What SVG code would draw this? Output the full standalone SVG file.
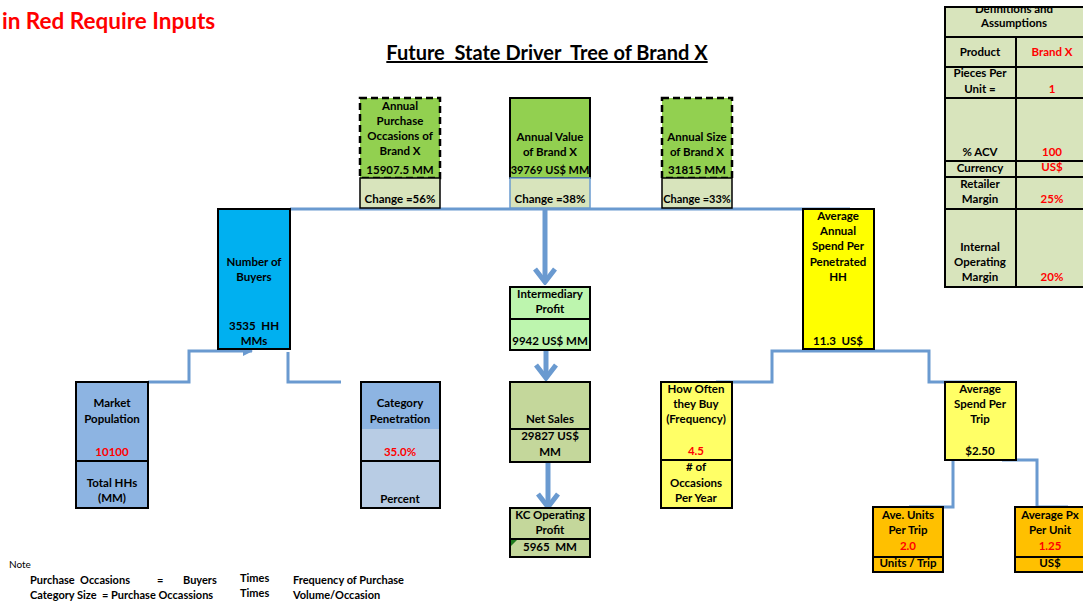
<svg xmlns="http://www.w3.org/2000/svg" width="1083" height="604" viewBox="0 0 1083 604">
<defs>
<style>
text{font-family:Lato,"Liberation Sans",sans-serif;font-weight:bold;font-size:11.5px;fill:#000;text-anchor:middle;white-space:pre}
.red{fill:#FF0000}
.box{stroke:#000;stroke-width:2}
.cell{stroke:#000;stroke-width:1.5}
.dash{stroke:#000;stroke-width:2.5;stroke-dasharray:7 4}
.conn{fill:none;stroke:#6A9AD0;stroke-width:3}
.thick{fill:none;stroke:#6A9AD0;stroke-width:5}
.note{text-anchor:start;font-size:11px}
</style>
<marker id="chev" viewBox="0 0 18 24" refX="15" refY="12" markerWidth="18" markerHeight="24" markerUnits="userSpaceOnUse" orient="auto">
<path d="M2,2 L15,12 L2,22" fill="none" stroke="#6A9AD0" stroke-width="5"/>
</marker>
<marker id="tri" viewBox="0 0 10 10" refX="9" refY="5" markerWidth="10" markerHeight="10" markerUnits="userSpaceOnUse" orient="auto">
<path d="M0,0 L10,5 L0,10 Z" fill="#6A9AD0"/>
</marker>
<clipPath id="tblclip"><rect x="940" y="8" width="150" height="30"/></clipPath>
</defs>
<rect width="1083" height="604" fill="#fff"/>

<text x="2" y="29" class="red" style="text-anchor:start;font-size:22.5px">in Red Require Inputs</text>
<text x="547" y="60" style="font-size:20px;text-decoration:underline">Future  State Driver  Tree of Brand X</text>

<g id="connectors">
<polyline class="conn" points="290,209 805,209 850,209"/>
<line class="thick" x1="545" y1="210" x2="545" y2="282" marker-end="url(#chev)"/>
<line class="thick" x1="546" y1="351" x2="546" y2="378" marker-end="url(#chev)"/>
<line class="thick" x1="548" y1="463" x2="548" y2="507" marker-end="url(#chev)"/>
<polyline class="conn" points="148,382 189,382 189,351 252,351" marker-end="url(#tri)"/>
<polyline class="conn" points="288,352 288,382 341,382"/>
<polyline class="conn" points="716,382 772,382 772,351 929,351 929,382 990,382"/>
<polyline class="conn" points="998,444 953,444 953,507 909,507"/>
<polyline class="conn" points="1002,460 1037,460 1037,507 1068,507"/>
</g>

<g id="annual-purchase-occasions">
<rect x="360" y="98" width="80" height="80" fill="#92D050"/>
<rect x="360" y="98" width="80" height="80" fill="none" class="dash"/>
<rect x="360" y="178" width="80" height="30" fill="#D8E4BC" class="cell"/>
<text x="400" y="110">Annual</text>
<text x="400" y="125">Purchase</text>
<text x="400" y="140">Occasions of</text>
<text x="400" y="155">Brand X</text>
<text x="400" y="174">15907.5 MM</text>
<text x="400" y="203">Change =56%</text>
</g>

<g id="annual-value">
<rect x="510" y="98" width="80" height="80" fill="#92D050" class="box"/>
<rect x="510" y="178" width="80" height="30" fill="#D8E4BC" stroke="#6A9AD0" stroke-width="1.5"/>
<text x="550" y="141">Annual Value</text>
<text x="550" y="156">of Brand X</text>
<text x="550" y="174" style="font-size:11px">39769 US$ MM</text>
<text x="550" y="203">Change =38%</text>
</g>

<g id="annual-size">
<rect x="662" y="98" width="70" height="80" fill="#92D050"/>
<rect x="662" y="98" width="70" height="80" fill="none" class="dash"/>
<rect x="662" y="178" width="70" height="30" fill="#D8E4BC" class="cell"/>
<text x="697" y="141">Annual Size</text>
<text x="697" y="156">of Brand X</text>
<text x="697" y="174">31815 MM</text>
<text x="697" y="203" style="font-size:11px">Change =33%</text>
</g>

<g id="number-of-buyers">
<rect x="218" y="209" width="72" height="140" fill="#00B0F0" class="box"/>
<text x="254" y="266">Number of</text>
<text x="254" y="281">Buyers</text>
<text x="254" y="330">3535  HH</text>
<text x="254" y="345">MMs</text>
</g>

<g id="avg-annual-spend">
<rect x="803" y="209" width="71" height="140" fill="#FFFF00" class="box"/>
<text x="838" y="220">Average</text>
<text x="838" y="235">Annual</text>
<text x="838" y="250">Spend Per</text>
<text x="838" y="266">Penetrated</text>
<text x="838" y="281">HH</text>
<text x="838" y="345">11.3  US$</text>
</g>

<g id="intermediary-profit">
<rect x="510" y="287" width="80" height="63" fill="#BDF5AE" class="box"/>
<line x1="510" y1="319" x2="590" y2="319" class="box"/>
<text x="550" y="298">Intermediary</text>
<text x="550" y="313">Profit</text>
<text x="550" y="345">9942 US$ MM</text>
</g>

<g id="net-sales">
<rect x="510" y="382" width="80" height="80" fill="#C4D79B" class="box"/>
<line x1="510" y1="429" x2="590" y2="429" class="box"/>
<text x="550" y="423">Net Sales</text>
<text x="550" y="440">29827 US$</text>
<text x="550" y="456">MM</text>
</g>

<g id="kc-operating-profit">
<rect x="510" y="508" width="80" height="49" fill="#C4D79B" class="box"/>
<line x1="510" y1="539" x2="590" y2="539" class="box"/>
<path d="M511,540 L517,540 L511,546 Z" fill="#1E7B1E"/>
<text x="550" y="519">KC Operating</text>
<text x="550" y="534">Profit</text>
<text x="550" y="551">5965  MM</text>
</g>

<g id="market-population">
<rect x="76" y="382" width="72" height="126" fill="#8DB4E2" class="box"/>
<line x1="76" y1="461" x2="148" y2="461" class="box"/>
<text x="112" y="407">Market</text>
<text x="112" y="423">Population</text>
<text x="112" y="456" class="red">10100</text>
<text x="112" y="487">Total HHs</text>
<text x="112" y="502">(MM)</text>
</g>

<g id="category-penetration">
<rect x="361" y="382" width="79" height="126" fill="#B8CCE4"/>
<rect x="361" y="382" width="79" height="47" fill="#8DB4E2"/>
<rect x="361" y="382" width="79" height="126" fill="none" class="box"/>
<line x1="361" y1="461" x2="440" y2="461" class="box"/>
<text x="400" y="407">Category</text>
<text x="400" y="423">Penetration</text>
<text x="400" y="456" class="red">35.0%</text>
<text x="400" y="503">Percent</text>
</g>

<g id="how-often">
<rect x="661" y="382" width="71" height="126" fill="#FFFF66" class="box"/>
<line x1="661" y1="460" x2="732" y2="460" class="box"/>
<text x="696" y="393">How Often</text>
<text x="696" y="408">they Buy</text>
<text x="696" y="423">(Frequency)</text>
<text x="696" y="455" class="red">4.5</text>
<text x="696" y="471"># of</text>
<text x="696" y="487">Occasions</text>
<text x="696" y="502">Per Year</text>
</g>

<g id="avg-spend-per-trip">
<rect x="945" y="382" width="71" height="78" fill="#FFFF66" class="box"/>
<text x="980" y="393">Average</text>
<text x="980" y="408">Spend Per</text>
<text x="980" y="423">Trip</text>
<text x="980" y="455">$2.50</text>
</g>

<g id="ave-units">
<rect x="873" y="507" width="70" height="65" fill="#FFC000" class="box"/>
<line x1="873" y1="557" x2="943" y2="557" class="box"/>
<text x="908" y="519">Ave. Units</text>
<text x="908" y="534">Per Trip</text>
<text x="908" y="550" class="red">2.0</text>
<text x="908" y="567">Units / Trip</text>
</g>

<g id="average-px">
<rect x="1015" y="507" width="75" height="65" fill="#FFC000" class="box"/>
<line x1="1015" y1="557" x2="1090" y2="557" class="box"/>
<text x="1050" y="519">Average Px</text>
<text x="1050" y="534">Per Unit</text>
<text x="1050" y="550" class="red">1.25</text>
<text x="1050" y="567">US$</text>
</g>

<g id="assumptions-table">
<rect x="945" y="7" width="145" height="280" fill="#D8E4BC" class="box"/>
<g class="box">
<line x1="945" y1="37" x2="1090" y2="37"/>
<line x1="945" y1="67" x2="1090" y2="67"/>
<line x1="945" y1="98" x2="1090" y2="98"/>
<line x1="945" y1="161" x2="1090" y2="161"/>
<line x1="945" y1="177" x2="1090" y2="177"/>
<line x1="945" y1="209" x2="1090" y2="209"/>
<line x1="1016" y1="37" x2="1016" y2="287"/>
</g>
<text x="1014" y="13" clip-path="url(#tblclip)">Definitions and</text>
<text x="1014" y="27">Assumptions</text>
<text x="980" y="56">Product</text>
<text x="1052" y="56" class="red">Brand X</text>
<text x="980" y="77">Pieces Per</text>
<text x="980" y="93">Unit =</text>
<text x="1052" y="93" class="red">1</text>
<text x="980" y="156">% ACV</text>
<text x="1052" y="156" class="red">100</text>
<text x="980" y="172">Currency</text>
<text x="1052" y="171" class="red">US$</text>
<text x="980" y="188">Retailer</text>
<text x="980" y="203">Margin</text>
<text x="1052" y="203" class="red">25%</text>
<text x="980" y="251">Internal</text>
<text x="980" y="266">Operating</text>
<text x="980" y="281">Margin</text>
<text x="1052" y="281" class="red">20%</text>
</g>

<g id="note">
<text x="9" y="568" class="note" style="font-weight:normal;font-size:10px">Note</text>
<text x="30" y="584" class="note">Purchase  Occasions</text>
<text x="157" y="584" class="note">=</text>
<text x="183" y="584" class="note">Buyers</text>
<text x="240" y="582" class="note">Times</text>
<text x="293" y="584" class="note">Frequency of Purchase</text>
<text x="30" y="599" class="note">Category Size  = Purchase Occassions</text>
<text x="240" y="597" class="note">Times</text>
<text x="293" y="599" class="note">Volume/Occasion</text>
</g>
</svg>
